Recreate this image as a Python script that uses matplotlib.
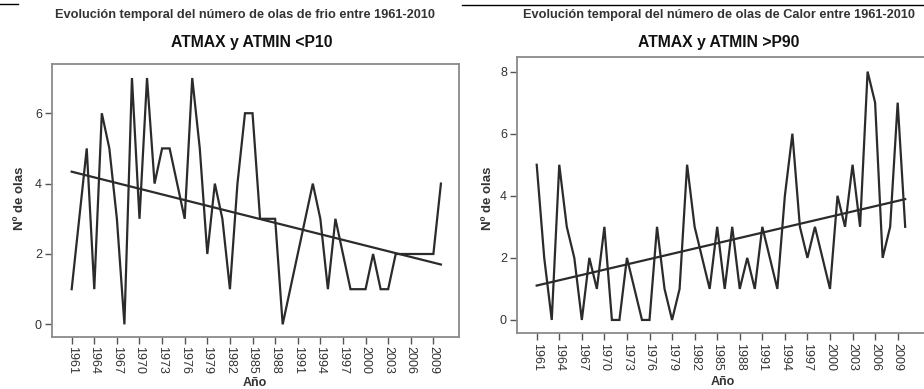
import numpy as np
import matplotlib
matplotlib.use("Agg")
import matplotlib.pyplot as plt
from matplotlib.lines import Line2D

plt.rcParams['font.family'] = ['Liberation Sans', 'DejaVu Sans']

years = list(range(1961, 2011))
tick_years = list(range(1961, 2010, 3))

frio = [1, 3, 5, 1, 6, 5, 3, 0, 7, 3,
        7, 4, 5, 5, 4, 3, 7, 5, 2, 4,
        3, 1, 4, 6, 6, 3, 3, 3, 0, 1,
        2, 3, 4, 3, 1, 3, 2, 1, 1, 1,
        2, 1, 1, 2, 2, 2, 2, 2, 2, 4]

calor = [5, 2, 0, 5, 3, 2, 0, 2, 1, 3,
         0, 0, 2, 1, 0, 0, 3, 1, 0, 1,
         5, 3, 2, 1, 3, 1, 3, 1, 2, 1,
         3, 2, 1, 4, 6, 3, 2, 3, 2, 1,
         4, 3, 5, 3, 8, 7, 2, 3, 7, 3]

titles = ["Evolución temporal del número de olas de frio entre 1961-2010",
          "Evolución temporal del número de olas de Calor entre 1961-2010"]
subtitles = ["ATMAX y ATMIN <P10", "ATMAX y ATMIN >P90"]
ylabel = "Nº de olas"
xlabel = "Año"

W, H = 924, 389
fig = plt.figure(figsize=(W / 100, H / 100), dpi=100)

def fx(x):
    return x / W

def fy(y):
    return 1 - y / H

line_col = '#2b2b2b'
spine_col = '#8a8a8a'
text_col = '#333333'

# axes boxes (pixel coords: left, top, right, bottom)
boxes = [(51.7, 64.3, 459.0, 336.7), (516.7, 57.0, 927.0, 333.0)]
xlims = [(1958.35, 2012.4), (1958.34, 2012.9)]
ylims = [(-0.35, 7.39), (-0.42, 8.47)]
yticks = [[0, 2, 4, 6], [0, 2, 4, 6, 8]]
series = [frio, calor]
title_x = [245, 719]
subtitle_x = [251.5, 719]
ylabel_x = [20, 488]
xlabel_pos = [(255, 383), (723, 382)]

for i in range(2):
    l, t, r, b = boxes[i]
    ax = fig.add_axes([fx(l), fy(b), fx(r - l), (b - t) / H])
    yrs = np.array(years)
    vals = np.array(series[i])
    ax.plot(yrs, vals, color=line_col, lw=1.6, solid_joinstyle='miter')
    m, c = np.polyfit(yrs, vals, 1)
    ax.plot([yrs[0], yrs[-1]], [m * yrs[0] + c, m * yrs[-1] + c], color=line_col, lw=1.6)
    ax.set_xlim(*xlims[i])
    ax.set_ylim(*ylims[i])
    ax.set_xticks(tick_years)
    ax.set_xticklabels([str(y) for y in tick_years], rotation=-90, fontsize=9, color=text_col)
    ax.set_yticks(yticks[i])
    ax.set_yticklabels([str(v) for v in yticks[i]], fontsize=9, color=text_col)
    ax.tick_params(direction='out', length=5, width=1, color='#555555', pad=2)
    for s in ax.spines.values():
        s.set_color(spine_col)
        s.set_linewidth(1.3)
    fig.text(fx(title_x[i]), fy(15), titles[i], ha='center', va='center',
             fontsize=9.2, fontweight='bold', color=text_col)
    fig.text(fx(subtitle_x[i]), fy(42), subtitles[i], ha='center', va='center',
             fontsize=11.3, fontweight='bold', color='#111111')
    fig.text(fx(ylabel_x[i]), fy(198), ylabel, ha='center', va='center', rotation=90,
             fontsize=9.5, fontweight='bold', color=text_col)
    fig.text(fx(xlabel_pos[i][0]), fy(xlabel_pos[i][1]), xlabel, ha='center', va='center',
             fontsize=9, fontweight='bold', color=text_col)

# document crop artifacts at the top
fig.add_artist(Line2D([fx(0), fx(18)], [fy(4), fy(4)], color='black', lw=1))
fig.add_artist(Line2D([fx(462), fx(924)], [fy(5), fy(5)], color='black', lw=1))

fig.savefig("out.png", dpi=100)
